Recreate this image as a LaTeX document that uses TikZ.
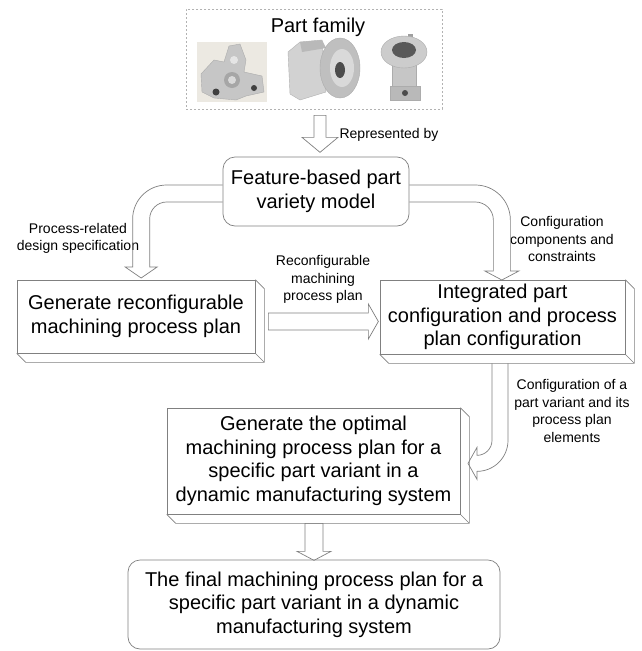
\documentclass[tikz,border=0pt]{standalone}
\usepackage{fontspec}
\setmainfont{Liberation Sans}
\usetikzlibrary{positioning,calc}
\definecolor{linegray}{RGB}{128,128,128}
\definecolor{photobg}{RGB}{236,233,226}

\begin{document}
\begin{tikzpicture}[x=1pt,y=-1pt,
        box/.style={draw=linegray, line width=0.7pt, align=center, inner sep=0pt, font=\fontsize{20}{23.5}\selectfont},
        roundbox/.style={box, rounded corners=12pt},
        lbl/.style={align=center, inner sep=0pt, font=\fontsize{14}{17.5}\selectfont},
        hollow/.style={draw=linegray, line width=0.7pt, line join=miter},
    ]
    \fill[white] (0,0) rectangle (641,651);
    \useasboundingbox (0,0) rectangle (641,651);

    \node[box, draw=gray!60, dash pattern=on 2pt off 2pt, minimum width=256pt, minimum height=100pt] (family) at (314,59) {};
    \node[box, draw=none] (famtitle) at (318,27) {Part family};
    \node[roundbox, minimum width=186pt, minimum height=69pt] (model) at (316,191.5) {Feature-based part\\variety model};
    \node[box, minimum width=238pt, minimum height=73pt] (genplan) at (136,316.5) {Generate reconfigurable\\machining process plan};
    \node[box, minimum width=245pt, minimum height=74pt] (integ) at (502.5,317) {Integrated part\\configuration and process\\plan configuration};
    \node[box, minimum width=293pt, minimum height=106pt] (optimal) at (313.5,461) {Generate the optimal\\machining process plan for a\\specific part variant in a\\dynamic manufacturing system};
    \node[roundbox, minimum width=372pt, minimum height=89pt] (final) at (314,604.5) {The final machining process plan for a\\specific part variant in a dynamic\\manufacturing system};

    \node[lbl] (lblrep)     at (389,135)   {Represented by};
    \node[lbl] (lblspec)    at (78,238.5)  {Process-related\\design specification};
    \node[lbl] (lblreconf)  at (323,279.5) {Reconfigurable\\machining\\process plan};
    \node[lbl] (lblcomp)    at (562,239)   {Configuration\\components and\\constraints};
    \node[lbl] (lblvariant) at (572,411)   {Configuration of a\\part variant and its\\process plan\\elements};

    % depth of the block boxes
    \foreach \n in {genplan,integ,optimal}
        \draw[hollow] (\n.north east) -- ++(9,9) -- ($(\n.south east)+(9,9)$) -- ($(\n.south west)+(9,9)$) -- (\n.south west)
                      (\n.south east) -- ++(9,9);

    % part photos
    \fill[photobg] (197,42) rectangle (267,102);
    \filldraw[fill=gray!45, draw=gray!65] (201,74) -- (214,60) -- (224,62) -- (229,46) -- (240,44) -- (246,60) -- (244,72) -- (262,76) -- (264,92) -- (246,96) -- (236,100) -- (214,98) -- (202,92) -- cycle;
    \fill[gray!20] (234,60) circle[radius=4pt];
    \fill[gray!70] (232,80) circle[radius=8pt];
    \fill[gray!30] (232,80) circle[radius=4pt];
    \fill[black!75] (216,92) circle[radius=3.5pt];
    \fill[black!75] (254,88) circle[radius=3pt];

    \filldraw[fill=gray!35, draw=gray!60] (288,52) -- (300,42) -- (322,40) -- (326,92) -- (300,100) -- (290,94) -- cycle;
    \fill[gray!55] (300,42) -- (322,40) -- (326,48) -- (302,52) -- cycle;
    \filldraw[fill=gray!50, draw=gray!65] (340,68) ellipse[x radius=20pt, y radius=30pt];
    \fill[gray!30] (342,68) ellipse[x radius=12pt, y radius=19pt];
    \fill[black!70] (340,70) ellipse[x radius=5pt, y radius=8pt];

    \fill[gray!75] (408,34) rectangle (413,48);
    \filldraw[fill=gray!45, draw=gray!65] (392,56) rectangle (416,90);
    \filldraw[fill=gray!40, draw=gray!65] (404,52) ellipse[x radius=23pt, y radius=16pt];
    \fill[black!65] (404,50) ellipse[x radius=12pt, y radius=8pt];
    \filldraw[fill=gray!55, draw=gray!65] (390,86) rectangle (420,100);
    \fill[black!70] (405,93) circle[radius=3pt];

    % hollow arrows
    \draw[hollow] ([yshift=-6pt]family.south) -- ++(0,22) -- ++(-12,0) -- ++(18,15) -- ++(18,-15) -- ++(-12,0) -- ++(0,-22) -- cycle;
    \draw[hollow] ([yshift=6.5pt]model.west) -- ++(-56,0) arc[start angle=90, end angle=180, radius=34pt] -- ++(0,48)
        -- ++(-7.5,0) -- ++(16,11) -- ++(16,-11) -- ++(-7.5,0) -- ++(0,-48) arc[start angle=180, end angle=90, radius=17pt] -- ++(56,0);
    \draw[hollow] ([yshift=6.5pt]model.east) -- ++(66,0) arc[start angle=90, end angle=0, radius=35pt] -- ++(0,51)
        -- ++(8.5,0) -- ++(-17,9) -- ++(-17,-9) -- ++(8.5,0) -- ++(0,-51) arc[start angle=0, end angle=90, radius=18pt] -- ++(-66,0);
    \draw[hollow] ([xshift=13pt,yshift=3.5pt]genplan.east) -- ++(100,0) -- ++(0,-9) -- ++(10,17.5) -- ++(-10,17.5) -- ++(0,-9) -- ++(-100,0) -- cycle;
    \draw[hollow] ([xshift=-10.5pt,yshift=-9pt]integ.south) -- ++(0,77) arc[start angle=0, end angle=-90, radius=15pt] -- ++(0,-8)
        -- ++(-9,16) -- ++(9,16) -- ++(0,-8) arc[start angle=-90, end angle=0, radius=31pt] -- ++(0,-77);
    \draw[hollow] ([xshift=-8.5pt,yshift=-9pt]optimal.south) -- ++(0,28) -- ++(-8,0) -- ++(17,9) -- ++(17,-9) -- ++(-8,0) -- ++(0,-28) -- cycle;
\end{tikzpicture}
\end{document}
